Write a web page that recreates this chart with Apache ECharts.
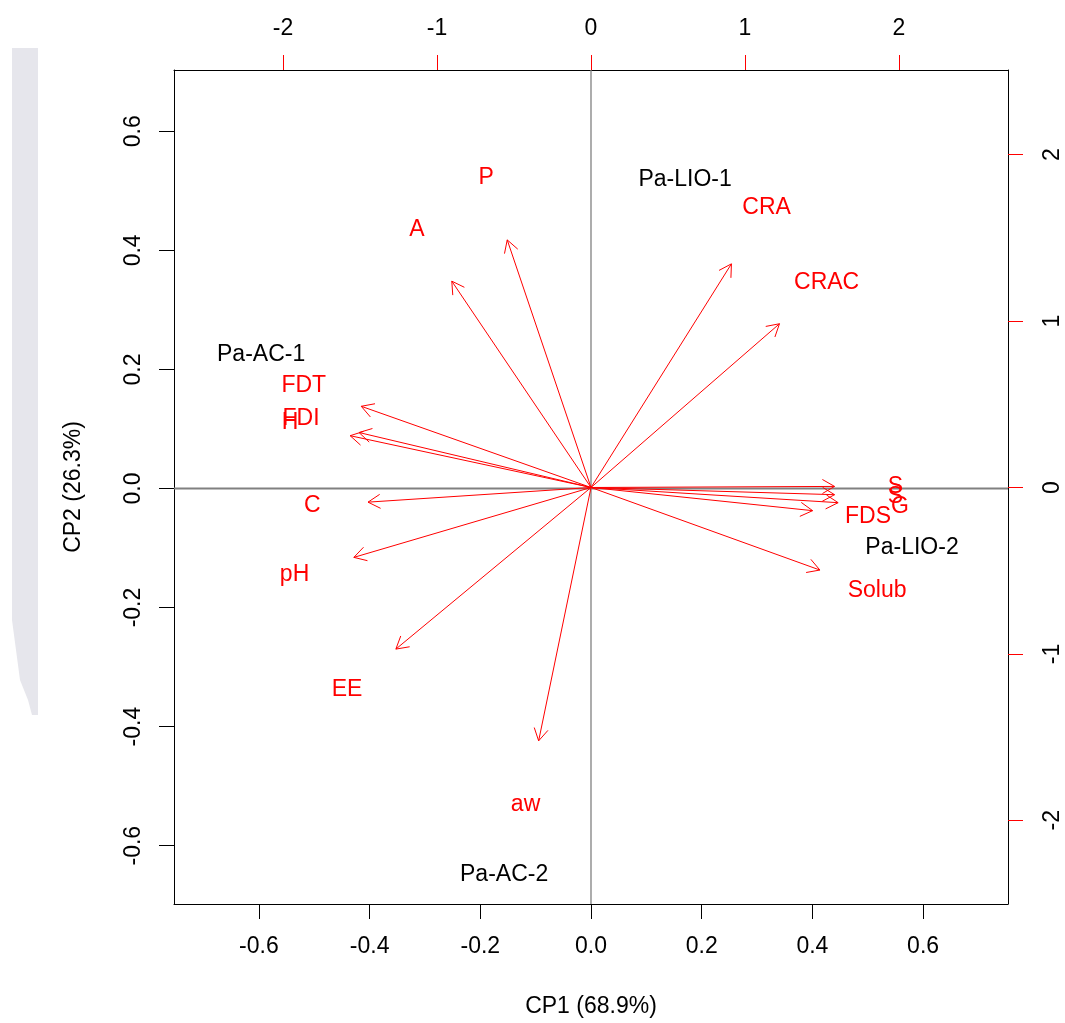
<!DOCTYPE html>
<html><head><meta charset="utf-8">
<script src="https://cdn.jsdelivr.net/npm/echarts@6/dist/echarts.min.js"></script>
<style>html,body{margin:0;padding:0;background:#fff}#c{width:1065px;height:1023px}</style>
</head><body><div id="c"></div>
<script>
// Variable loadings (secondary axes: top / right)
const varNames = ['P','A','CRA','CRAC','FDT','FDI','H','C','pH','EE','aw','S','S','G','FDS','Solub'];
const varX = [-0.68,-1.13,1.14,1.53,-1.865,-1.883,-1.955,-1.81,-1.925,-1.584,-0.425,1.977,1.977,2.006,1.799,1.858];
const varY = [1.86,1.55,1.68,1.23,0.61,0.413,0.389,-0.11,-0.525,-1.214,-1.903,0.008,-0.054,-0.114,-0.174,-0.62];
// Observation scores (primary axes: bottom / left)
const obsNames = ['Pa-LIO-1','Pa-AC-1','Pa-LIO-2','Pa-AC-2'];
const obsX = [0.170,-0.596,0.580,-0.157];
const obsY = [0.519,0.224,-0.100,-0.649];
// Tick labels
const xTicks = [-0.6,-0.4,-0.2,0,0.2,0.4,0.6];
const yTicks = [-0.6,-0.4,-0.2,0,0.2,0.4,0.6];
const x2Ticks = [-2,-1,0,1,2];
const y2Ticks = [-2,-1,0,1,2];

const FONT = '"Liberation Sans", Arial, sans-serif';
const FS = 23;
const RED = '#ff0000';
const X1 = [-0.7534, 0.7534], Y1 = [-0.698, 0.703];
const X2 = [-2.708, 2.708], Y2 = [-2.503, 2.509];

function axisCommon(ticks, tickColor, fmt, margin, rotate, pos) {
  return {
    type: 'value', position: pos,
    splitLine: {show: false},
    axisLine: {show: true, onZero: false, lineStyle: {color: '#000', width: 1}},
    axisTick: {show: true, inside: false, length: 15, customValues: ticks, lineStyle: {color: tickColor, width: 1}},
    axisLabel: {customValues: ticks, formatter: fmt, margin: margin, rotate: rotate, color: '#000', fontSize: FS, fontFamily: FONT},
  };
}

const chart = echarts.init(document.getElementById('c'), null, {renderer: 'canvas'});
const option = {
  animation: false,
  backgroundColor: '#fff',
  graphic: [{
    type: 'polygon', z: -10,
    shape: {points: [[12,48],[38,48],[38,715],[32,715],[28,700],[20,680],[12,620]]},
    style: {fill: '#e6e6ec'}
  }],
  grid: {left: 174, right: 57, top: 70, bottom: 116, containLabel: false},
  xAxis: [
    Object.assign(axisCommon(xTicks, '#000', v => v.toFixed(1), 31, 0, 'bottom'), {
      min: X1[0], max: X1[1],
      name: 'CP1 (68.9%)', nameLocation: 'middle', nameGap: 91,
      nameTextStyle: {color: '#000', fontSize: FS, fontFamily: FONT}
    }),
    Object.assign(axisCommon(x2Ticks, RED, v => String(v), 30, 0, 'top'), {min: X2[0], max: X2[1]})
  ],
  yAxis: [
    Object.assign(axisCommon(yTicks, '#000', v => v.toFixed(1), 29, 90, 'left'), {
      min: Y1[0], max: Y1[1],
      name: 'CP2 (26.3%)', nameLocation: 'middle', nameGap: 89,
      nameTextStyle: {color: '#000', fontSize: FS, fontFamily: FONT}
    }),
    Object.assign(axisCommon(y2Ticks, RED, v => String(v), 33, 90, 'right'), {min: Y2[0], max: Y2[1]})
  ],
  series: [
    {
      type: 'custom', xAxisIndex: 0, yAxisIndex: 0, z: 1,
      data: [[0, 0]],
      renderItem: function (params, api) {
        const top = api.coord([0, Y1[1]]), bot = api.coord([0, Y1[0]]);
        const l = api.coord([X1[0], 0]), r = api.coord([X1[1], 0]);
        return {type: 'group', children: [
          {type: 'line', shape: {x1: top[0], y1: top[1], x2: bot[0], y2: bot[1]}, style: {stroke: '#808080', lineWidth: 1.3}},
          {type: 'line', shape: {x1: l[0], y1: l[1], x2: r[0], y2: r[1]}, style: {stroke: '#808080', lineWidth: 2}}
        ]};
      }
    },
    {
      type: 'custom', xAxisIndex: 1, yAxisIndex: 1, z: 3,
      data: varX.map((x, i) => [x, varY[i]]),
      renderItem: function (params, api) {
        const o = api.coord([0, 0]);
        const t = api.coord([api.value(0) * 0.8, api.value(1) * 0.8]);
        const ang = Math.atan2(t[1] - o[1], t[0] - o[0]);
        const L = 14, a = Math.PI / 6;
        const h1 = [t[0] - L * Math.cos(ang - a), t[1] - L * Math.sin(ang - a)];
        const h2 = [t[0] - L * Math.cos(ang + a), t[1] - L * Math.sin(ang + a)];
        return {type: 'group', children: [
          {type: 'line', shape: {x1: o[0], y1: o[1], x2: t[0], y2: t[1]}, style: {stroke: RED, lineWidth: 1}},
          {type: 'polyline', shape: {points: [h1, t, h2]}, style: {stroke: RED, fill: null, lineWidth: 1}}
        ]};
      }
    },
    {
      type: 'custom', xAxisIndex: 1, yAxisIndex: 1, z: 4,
      data: varX.map((x, i) => [x, varY[i], i]),
      renderItem: function (params, api) {
        const p = api.coord([api.value(0), api.value(1)]);
        return {type: 'text', x: p[0], y: p[1], style: {text: varNames[api.value(2)], fill: RED, font: FS + 'px ' + FONT, align: 'center', verticalAlign: 'middle'}};
      }
    },
    {
      type: 'custom', xAxisIndex: 0, yAxisIndex: 0, z: 4,
      data: obsX.map((x, i) => [x, obsY[i], i]),
      renderItem: function (params, api) {
        const p = api.coord([api.value(0), api.value(1)]);
        return {type: 'text', x: p[0], y: p[1], style: {text: obsNames[api.value(2)], fill: '#000', font: FS + 'px ' + FONT, align: 'center', verticalAlign: 'middle'}};
      }
    }
  ]
};
chart.setOption(option);
</script>
</body></html>
